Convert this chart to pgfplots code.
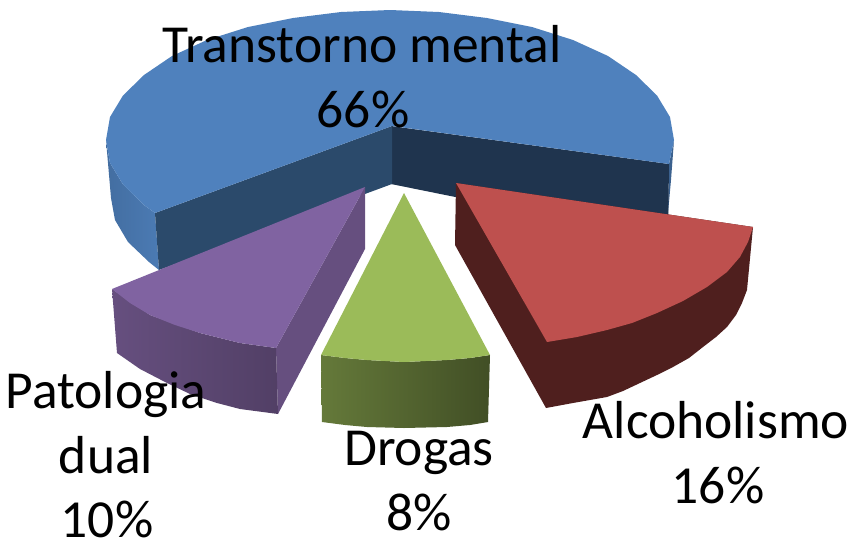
\documentclass[border=0pt]{standalone}
\usepackage{fontspec}
\setmainfont{Carlito}
\usepackage{pgfplots}
\pgfplotsset{compat=1.18}
\definecolor{bluetop}{HTML}{4F81BD}
\definecolor{bluein}{HTML}{2B4A6B}
\definecolor{bluedark}{HTML}{1F344E}
\definecolor{redtop}{HTML}{BE504E}
\definecolor{reddark}{HTML}{4F1F1E}
\definecolor{greentop}{HTML}{9BBB59}
\definecolor{purptop}{HTML}{8063A1}
\definecolor{purpin}{HTML}{664F7F}
\pgfplotsset{face/.style={draw=none,fill=#1,no markers,forget plot}}
\tikzset{lab/.style={anchor=base,inner sep=0pt,font=\fontsize{53.5}{64}\selectfont}}
\begin{document}
\begin{tikzpicture}
\begin{axis}[
    width=852pt, height=539pt, scale only axis,
    xmin=0, xmax=852, ymin=0, ymax=539, y dir=reverse,
    hide axis, clip=false,
  ]
% keeps the page as large as the axis
\path (axis cs:0,0) rectangle (axis cs:852,539);
% transtorno mental: walls then top
\addplot[no markers,draw=none,left color=bluetop!85!black,right color=bluetop!95!black,forget plot] coordinates {
  (106,140) (110,163) (123,184.5) (144,205) (155,213) (159,270) (149,262) (128,242) (115,220) (111,198)} -- cycle;
\addplot[face=bluetop!75!black] coordinates {(674,140) (669,164) (668,213) (671,180)} -- cycle;
\addplot[face=bluedark] coordinates {(391,126) (669,164) (668,240) (391,184)} -- cycle;
\addplot[face=bluein] coordinates {(155,213) (392,126) (392,184) (159,270)} -- cycle;
\addplot[face=bluetop] coordinates {
  (669,164) (674,140) (670,117) (657,95.5) (636,75) (608,56) (573,40) (532,27) (487,18) (439,12) (390,10)
  (341,12) (293,18) (248,27) (207,40) (172,56) (144,75) (123,95.5) (110,117) (106,140) (110,163)
  (123,184.5) (144,205) (155,213) (392,126)} -- cycle;
% patologia dual
\addplot[face=purpin] coordinates {(365,187) (365,249) (278,414) (276,348)} -- cycle;
\addplot[no markers,draw=none,left color=purpin,right color=purpin!80!black,forget plot] coordinates {
  (112,289) (150,315) (200,333) (240,343) (276,348) (278,414) (240,409) (217,403) (190,394) (167,383) (140,369) (117,353)} -- cycle;
\addplot[face=purptop] coordinates {(365,187) (112,289) (130,303) (150,315) (175,325) (200,333) (240,343) (276,348)} -- cycle;
% drogas
\addplot[no markers,draw=none,left color=greentop!65!black,right color=greentop!42!black,forget plot] coordinates {
  (321,355) (345,358) (367,360) (404,362) (447,360) (470,358) (490,355) (488,422) (470,425) (447,427) (404,428) (367,427) (345,425) (322,422)} -- cycle;
\addplot[face=greentop] coordinates {(404,193) (490,355) (470,358) (447,360) (404,362) (367,360) (345,358) (321,355)} -- cycle;
% alcoholismo
\addplot[face=reddark] coordinates {
  (456,183) (753,227) (747,290) (742,303) (736,315) (727,327) (716,337) (703,347) (689,358) (673,367)
  (657,375) (640,383) (623,391) (607,397) (590,400) (573,403) (546,408) (455,245)} -- cycle;
\addplot[face=redtop] coordinates {
  (456,183) (753,227) (748,242) (740,257) (727,272) (707,287) (683,301) (657,313) (632,323) (607,330) (577,337) (547,342)} -- cycle;
% labels
\node[lab] at (axis cs:362,62) {Transtorno mental};
\node[lab] at (axis cs:363,127) {66\%};
\node[lab] at (axis cs:716,438) {Alcoholismo};
\node[lab] at (axis cs:718,503) {16\%};
\node[lab] at (axis cs:419,465) {Drogas};
\node[lab] at (axis cs:419,530) {8\%};
\node[lab] at (axis cs:106,408) {Patologia};
\node[lab] at (axis cs:106,473) {dual};
\node[lab] at (axis cs:107,537.5) {10\%};
\end{axis}
\end{tikzpicture}
\end{document}
